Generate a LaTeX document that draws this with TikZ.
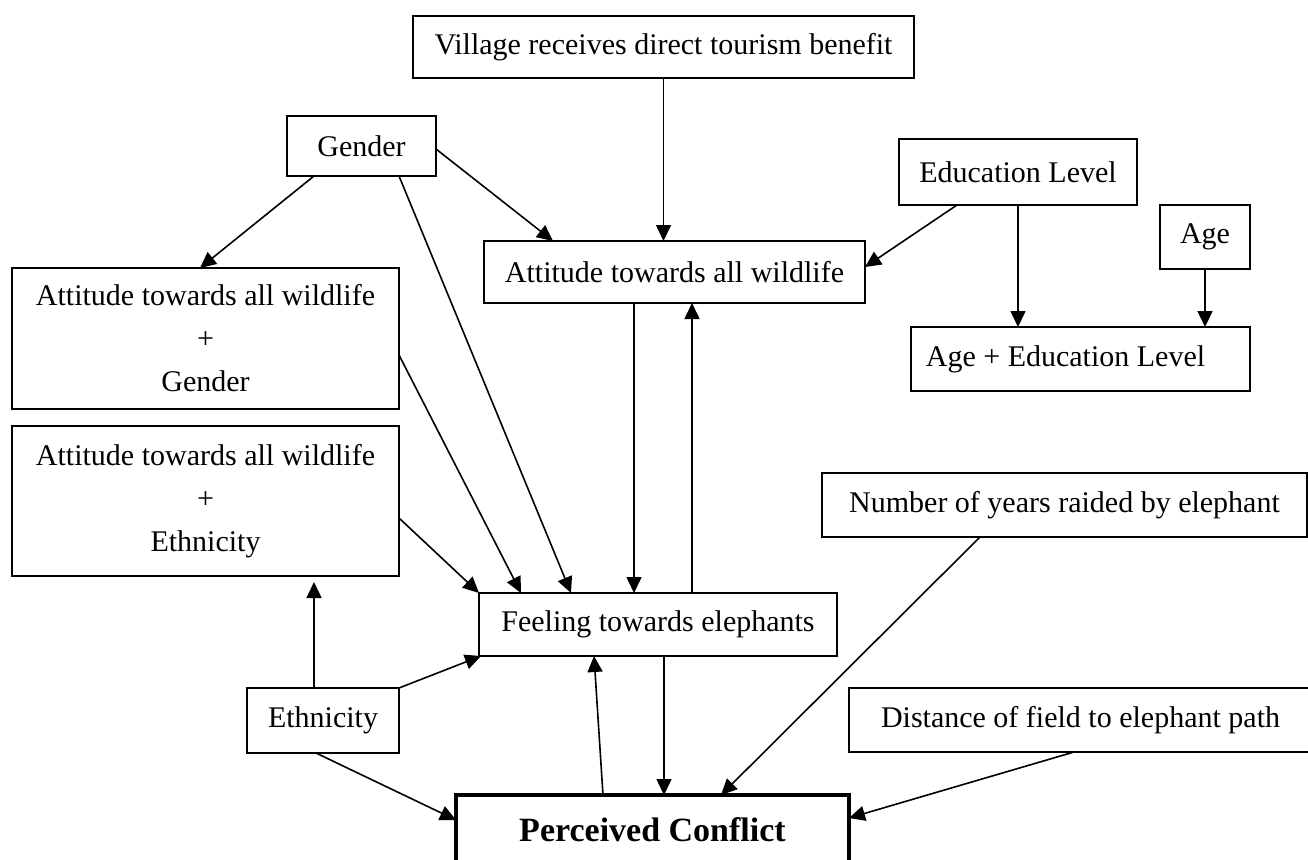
\documentclass[tikz,border=0pt]{standalone}
\usepackage{fontspec}
\setmainfont{Liberation Serif}
\usetikzlibrary{arrows.meta}
\tikzset{
  box/.style={draw, line width=1.6pt, rectangle, inner sep=0pt, outer sep=0pt,
    align=center, font=\fontsize{30}{43}\selectfont},
  mainbox/.style={draw, line width=3.5pt, rectangle, inner sep=0pt, outer sep=0pt,
    align=center, font=\fontsize{34}{40}\selectfont\bfseries},
  arr/.style={line width=1.6pt, -{Triangle[length=16pt,width=15pt]}}
}
\begin{document}
\begin{tikzpicture}[x=1pt,y=-1pt]
\useasboundingbox (0,0) rectangle (1308,859);
% nodes
\node[box, minimum width=501pt, minimum height=62pt] (village) at (663.5,47) {Village receives direct tourism benefit};
\node[box, minimum width=149pt, minimum height=60pt] (gender) at (361.5,146) {Gender};
\node[box, minimum width=381pt, minimum height=62pt] (attw) at (674.5,272) {Attitude towards all wildlife};
\node[box, minimum width=238pt, minimum height=66pt] (edu) at (1018,172) {Education Level};
\node[box, minimum width=90pt, minimum height=64pt] (age) at (1205,237) {Age};
\node[box, minimum width=339pt, minimum height=64pt] (ageedu) at (1080.5,359) {Age + Education Level\hspace*{30pt}};
\node[box, minimum width=387pt, minimum height=141pt] (attg) at (205.5,338.5) {Attitude towards all wildlife\\+\\Gender};
\node[box, minimum width=387pt, minimum height=150pt] (atte) at (205.5,501) {Attitude towards all wildlife\\+\\Ethnicity};
\node[box, minimum width=152pt, minimum height=65pt] (eth) at (323,720.5) {Ethnicity};
\node[box, minimum width=358pt, minimum height=63pt] (feel) at (658,624.5) {Feeling towards elephants};
\node[box, minimum width=485pt, minimum height=64pt] (num) at (1064.5,505) {Number of years raided by elephant};
\node[box, minimum width=463pt, minimum height=64pt] (dist) at (1080.5,720) {Distance of field to elephant path};
\node[mainbox, minimum width=393pt, minimum height=70pt] (pc) at (652.5,830) {Perceived Conflict};
% connectors
\draw[arr] (village.south) -- (village.south |- attw.north);
\draw[arr] ([xshift=-47.5pt]gender.south) -- ([xshift=-5.5pt]attg.north);
\draw[arr] ([yshift=-3pt]gender.east) -- ([xshift=-121.5pt]attw.north);
\draw[arr] ([xshift=37.5pt]gender.south) -- ([xshift=-87pt]feel.north);
\draw[arr] ([yshift=-16.5pt]attg.east) -- ([xshift=-137pt]feel.north);
\draw[arr] ([yshift=-17pt]atte.east) -- (feel.north west);
\draw[arr, shorten >=6pt] ([xshift=-9pt]eth.north) -- ([xshift=-9pt]eth.north |- atte.south);
\draw[arr] (eth.north east) -- ([xshift=2pt]feel.south west);
\draw[arr] ([xshift=-7pt]eth.south) -- ([yshift=10pt]pc.west);
\draw[arr] ([xshift=-40.5pt]attw.south) -- ([xshift=-40.5pt]attw.south |- feel.north);
\draw[arr] ([xshift=34pt]feel.north) -- ([xshift=34pt]feel.north |- attw.south);
\draw[arr] ([xshift=6pt]feel.south) -- ([xshift=6pt]feel.south |- pc.north);
\draw[arr] ([xshift=-49.5pt]pc.north) -- ([xshift=-64pt]feel.south);
\draw[arr] ([xshift=-84.5pt]num.south) -- ([xshift=68.5pt]pc.north);
\draw[arr] ([xshift=-6.5pt]dist.south) -- ([yshift=12pt]pc.east);
\draw[arr] ([xshift=-61pt]edu.south) -- ([yshift=5pt]attw.east);
\draw[arr] (edu.south) -- (edu.south |- ageedu.north);
\draw[arr] (age.south) -- (age.south |- ageedu.north);
\end{tikzpicture}
\end{document}
